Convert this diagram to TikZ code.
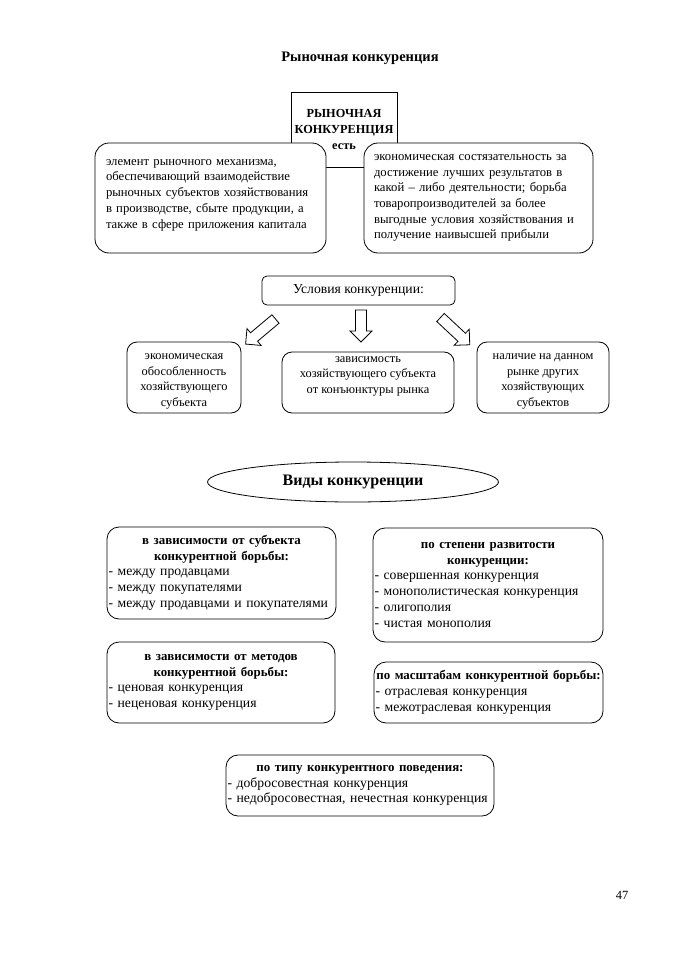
\documentclass[tikz,border=0pt]{standalone}
\usepackage{fontspec}
\setmainfont{Liberation Serif}
\usetikzlibrary{shapes.geometric}
\newcommand{\fn}{\fontsize{13.7}{15.7}\selectfont}
\newcommand{\fs}{\fontsize{12.7}{15.7}\selectfont}
\newcommand{\fc}{\fontsize{12.4}{15.5}\selectfont}
\newcommand{\fh}{\fontsize{12.9}{15.4}\selectfont\bfseries}
\newcommand{\blockarrow}[3]{%
  \draw[arrowline, shift={(#1)}, rotate=#2]
    (0,-5.5) -- (#3-11,-5.5) -- (#3-11,-11) -- (#3,0) -- (#3-11,11) -- (#3-11,5.5) -- (0,5.5) -- cycle;}
\begin{document}
\begin{tikzpicture}[x=1pt,y=-1pt,
  every node/.style={font=\fn, inner sep=0pt},
  arrowline/.style={draw, line width=0.8pt, fill=white},
  sqbox/.style={draw, line width=0.8pt, fill=white},
  rbox/.style={draw, line width=0.8pt, fill=white, rounded corners=14pt},
  cbox/.style={draw, line width=0.8pt, fill=white, rounded corners=10pt, align=center, font=\fc},
  lbox/.style={draw, line width=0.8pt, fill=white, rounded corners=12pt, align=left, inner xsep=1.5pt}]
\useasboundingbox (0,0) rectangle (678,960);
\fill[white] (0,0) rectangle (678,960);

\node[font=\fontsize{14.5}{16}\selectfont\bfseries] (title) at (360,58) {Рыночная конкуренция};

\node[sqbox, minimum width=106, minimum height=75, align=center,
  font=\fontsize{12.3}{16}\selectfont\bfseries] (main) at (344,129.5)
  {РЫНОЧНАЯ\\КОНКУРЕНЦИЯ\\есть};

\node[rbox, minimum width=231, minimum height=110, text width=209, align=left, inner xsep=11pt, font=\fs] (def1) at (210.5,198)
  {элемент рыночного механизма,\\обеспечивающий взаимодействие\\рыночных субъектов хозяйствования\\в производстве, сбыте продукции, а\\также в сфере приложения капитала\\[-7pt]\mbox{}};
\node[rbox, minimum width=229, minimum height=110, text width=209, align=left, inner xsep=10pt, font=\fs] (def2) at (478.5,198)
  {экономическая состязательность за\\достижение лучших результатов в\\какой -- либо деятельности; борьба\\товаропроизводителей за более\\выгодные условия хозяйствования и\\получение наивысшей прибыли};

\node[cbox, font=\fn, rounded corners=5pt, minimum width=193, minimum height=29] (cond) at (358.5,290.5) {Условия конкуренции:};

\coordinate (a1) at (275.5,319);
\coordinate (a2) at (361,310);
\coordinate (a3) at (440.5,317.5);
\blockarrow{a1}{220}{39}
\blockarrow{a2}{-90}{32}
\blockarrow{a3}{-43}{40}

\node[cbox, minimum width=114, minimum height=71] (c1) at (184,377.5)
  {\rule{0pt}{14pt}экономическая\\обособленность\\хозяйствующего\\субъекта};
\node[cbox, minimum width=172, minimum height=61] (c2) at (368,382.5)
  {зависимость\\хозяйствующего субъекта\\от конъюнктуры рынка\\\mbox{}};
\node[cbox, minimum width=132, minimum height=71] (c3) at (543,377.5)
  {\rule{0pt}{14pt}наличие на данном\\рынке других\\хозяйствующих\\субъектов};

\node[draw, line width=0.8pt, ellipse, minimum width=291, minimum height=40,
  font=\fontsize{16}{18}\selectfont\bfseries] (types) at (353,482) {Виды конкуренции};

\node[lbox, minimum width=229, minimum height=92, text width=226] (t1) at (221.5,573)
  {{\centering\fh в зависимости от субъекта\\конкурентной борьбы:\par}
   - между продавцами\\- между покупателями\\- между продавцами и покупателями};
\node[lbox, minimum width=230, minimum height=114, text width=227] (t2) at (488,585)
  {{\centering\fh по степени развитости\\конкуренции:\par}
   - совершенная конкуренция\\- монополистическая конкуренция\\- олигополия\\- чистая монополия};
\node[lbox, minimum width=228, minimum height=81, text width=225] (t3) at (221,682.5)
  {{\centering\fh в зависимости от методов\\конкурентной борьбы:\par}
   - ценовая конкуренция\\- неценовая конкуренция};
\node[lbox, minimum width=229, minimum height=61, text width=226] (t4) at (488.5,692.5)
  {{\centering\fh по масштабам конкурентной борьбы:\par}
   - отраслевая конкуренция\\- межотраслевая конкуренция};
\node[lbox, minimum width=268, minimum height=61, text width=265] (t5) at (360,785.5)
  {{\centering\fh по типу конкурентного поведения:\par}
   - добросовестная конкуренция\\- недобросовестная, нечестная конкуренция};

\node[font=\fontsize{12.5}{14}\selectfont] (page) at (622,895) {47};
\end{tikzpicture}
\end{document}
